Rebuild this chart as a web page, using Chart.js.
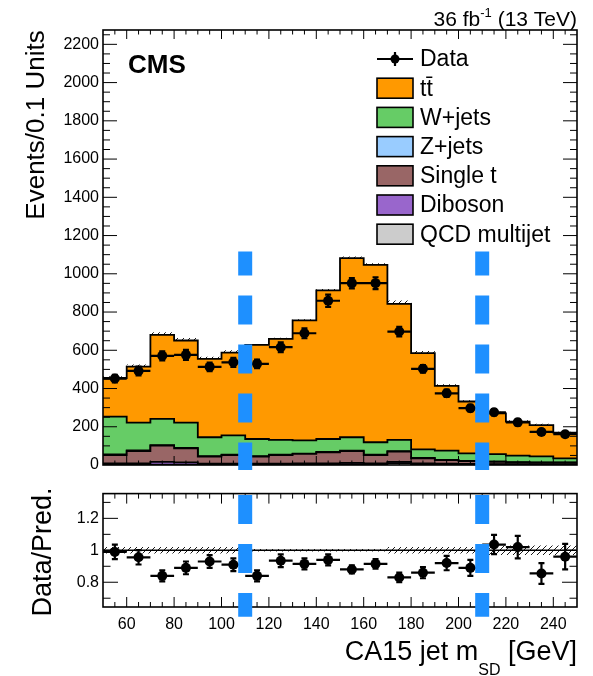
<!DOCTYPE html>
<html>
<head>
<meta charset="utf-8">
<script src="https://cdn.jsdelivr.net/npm/chart.js@4.4.0/dist/chart.umd.min.js"></script>
<style>
  html, body { margin: 0; padding: 0; background: #fff; }
  #wrap { position: relative; width: 593px; height: 676px; }
  #top { position: absolute; left: 0; top: 0; width: 593px; height: 480px; }
  #bot { position: absolute; left: 0; top: 480px; width: 593px; height: 196px; }
</style>
</head>
<body>
<div id="wrap">
  <canvas id="top" width="593" height="480"></canvas>
  <canvas id="bot" width="593" height="196"></canvas>
</div>
<script>
// bin edges, CA15 jet m_SD in GeV
var massEdges = [50, 60, 70, 80, 90, 100, 110, 120, 130, 140, 150, 160, 170, 180, 190, 200, 210, 220, 230, 240, 250];

// stacked predictions (events per bin)
var qcd       = [3, 2, 2, 2, 2, 2, 2, 2, 2, 3, 5, 4, 10, 4, 3, 2, 2, 2, 2, 2];
var diboson   = [5, 6, 14, 12, 5, 5, 5, 5, 6, 6, 6, 5, 6, 5, 4, 4, 3, 3, 3, 3];
var singleTop = [44, 65, 85, 73, 37, 45, 37, 45, 50, 57, 62, 43, 54, 26, 19, 15, 12, 9, 7, 7];
var zJets     = [3, 3, 3, 3, 2, 2, 2, 2, 2, 2, 2, 2, 2, 2, 1, 1, 1, 1, 1, 1];
var wJets     = [198, 146, 137, 132, 99, 101, 90, 77, 69, 68, 70, 65, 59, 45, 48, 39, 39, 34, 32, 22];
var ttbar     = [202, 293, 440, 429, 410, 433, 492, 529, 627, 777, 937, 928, 712, 503, 339, 271, 213, 178, 164, 134];
// relative uncertainty of the prediction
var mcUnc     = [0.02, 0.02, 0.02, 0.02, 0.02, 0.02, 0.008, 0.008, 0.008, 0.008, 0.008, 0.008, 0.02, 0.02, 0.02, 0.02, 0.03, 0.03, 0.03, 0.03];

// data
var dataVals  = [452, 492, 571, 576, 513, 537, 529, 616, 689, 859, 951, 951, 698, 503, 375, 297, 276, 223, 173, 161];
var dataErr   = [20, 23, 24, 26, 22, 24, 22, 26, 26, 32, 27, 31, 25, 20, 19, 17, 16, 16, 14, 13];

// ratio panel
var ratioVals = [0.99, 0.956, 0.84, 0.89, 0.93, 0.91, 0.84, 0.935, 0.915, 0.94, 0.88, 0.915, 0.83, 0.86, 0.92, 0.89, 1.036, 1.02, 0.855, 0.96];
var ratioErr  = [0.045, 0.045, 0.035, 0.04, 0.04, 0.04, 0.035, 0.04, 0.035, 0.035, 0.025, 0.03, 0.03, 0.035, 0.045, 0.05, 0.06, 0.07, 0.065, 0.08];

// ticks
var xTickLabels = [60, 80, 100, 120, 140, 160, 180, 200, 220, 240];
var yTickLabels = [0, 200, 400, 600, 800, 1000, 1200, 1400, 1600, 1800, 2000, 2200];
var ratioTickLabels = [0.8, 1, 1.2];

// selection cuts (blue dashed lines)
var cutValues = [110, 210];

var legendNames = ['Data', 'tt\u0304', 'W+jets', 'Z+jets', 'Single t', 'Diboson', 'QCD multijet'];
var legendColors = [null, '#ff9900', '#66cc66', '#99ccff', '#996666', '#9966cc', '#cccccc'];

var FONT = '"Liberation Sans", Arial, Helvetica, sans-serif';
Chart.defaults.font.family = FONT;
Chart.defaults.color = '#000';

var binCenters = massEdges.slice(0, -1).map(function (x, i) { return (x + massEdges[i + 1]) / 2; });
var mcTotal = ttbar.map(function (v, i) { return v + wJets[i] + zJets[i] + singleTop[i] + diboson[i] + qcd[i]; });

function stepPts(vals) {
  return massEdges.map(function (x, i) { return { x: x, y: vals[Math.min(i, vals.length - 1)] }; });
}
function pointPts(vals) {
  return binCenters.map(function (x, i) { return { x: x, y: vals[i] }; });
}

// hatch pattern like ROOT fill style 3004
function makeHatch() {
  var c = document.createElement('canvas');
  c.width = 6; c.height = 6;
  var g = c.getContext('2d');
  g.strokeStyle = '#000';
  g.lineWidth = 0.9;
  g.beginPath();
  g.moveTo(-1, 7); g.lineTo(7, -1);
  g.moveTo(-1, 1); g.lineTo(1, -1);
  g.moveTo(5, 7); g.lineTo(7, 5);
  g.stroke();
  return g.createPattern(c, 'repeat');
}
var hatch = makeHatch();

function histSet(label, vals, color, fill) {
  return {
    label: label, data: stepPts(vals), stepped: true,
    backgroundColor: color, borderColor: '#000', borderWidth: 1.8,
    pointRadius: 0, fill: fill, stack: 'mc', order: 1
  };
}

// draw frame with inward ROOT-style ticks
function drawFrame(chart, cfg) {
  var a = chart.chartArea, ctx = chart.ctx, xs = chart.scales.x, ys = chart.scales.y;
  ctx.save();
  ctx.strokeStyle = '#000';
  ctx.lineWidth = 1;
  ctx.beginPath();
  var v, px, len;
  for (v = massEdges[0] + 5; v < massEdges[massEdges.length - 1]; v += 5) {
    px = xs.getPixelForValue(v);
    len = (v % 20 === 0) ? cfg.xMajor : cfg.xMajor / 2;
    ctx.moveTo(px, a.bottom); ctx.lineTo(px, a.bottom - len);
    ctx.moveTo(px, a.top); ctx.lineTo(px, a.top + len);
  }
  for (v = cfg.yStart; v < ys.max; v += cfg.yMinor) {
    if (v <= ys.min) continue;
    px = ys.getPixelForValue(v);
    var k = Math.round((v - cfg.yStart) / cfg.yMinor);
    len = (k % cfg.yPer === 0) ? cfg.yMajor : cfg.yMajor / 2;
    ctx.moveTo(a.left, px); ctx.lineTo(a.left + len, px);
    ctx.moveTo(a.right, px); ctx.lineTo(a.right - len, px);
  }
  ctx.stroke();
  ctx.lineWidth = 1.6;
  ctx.strokeRect(a.left, a.top, a.right - a.left, a.bottom - a.top);
  ctx.restore();
}

function drawErrors(chart, vals, errs) {
  var ctx = chart.ctx, xs = chart.scales.x, ys = chart.scales.y;
  ctx.save();
  ctx.strokeStyle = '#000';
  ctx.lineWidth = 2.2;
  ctx.beginPath();
  vals.forEach(function (v, i) {
    var x0 = xs.getPixelForValue(massEdges[i]), x1 = xs.getPixelForValue(massEdges[i + 1]);
    var xc = xs.getPixelForValue(binCenters[i]);
    var y = ys.getPixelForValue(v);
    var yl = ys.getPixelForValue(v - errs[i]), yh = ys.getPixelForValue(v + errs[i]);
    ctx.moveTo(x0, y); ctx.lineTo(x1, y);
    ctx.moveTo(xc, yl); ctx.lineTo(xc, yh);
    ctx.moveTo(xc - 3, yl); ctx.lineTo(xc + 3, yl);
    ctx.moveTo(xc - 3, yh); ctx.lineTo(xc + 3, yh);
  });
  ctx.stroke();
  ctx.restore();
}

function drawCuts(chart, vTop, vBot, offset) {
  var ctx = chart.ctx, xs = chart.scales.x, ys = chart.scales.y;
  ctx.save();
  ctx.strokeStyle = '#1e90ff';
  ctx.lineWidth = 14;
  ctx.lineCap = 'butt';
  ctx.setLineDash([29, 20]);
  ctx.lineDashOffset = offset;
  cutValues.forEach(function (c) {
    var x = xs.getPixelForValue(c);
    ctx.beginPath();
    ctx.moveTo(x, ys.getPixelForValue(vTop));
    ctx.lineTo(x, ys.getPixelForValue(vBot));
    ctx.stroke();
  });
  ctx.restore();
}

var topPlugin = {
  id: 'topDecor',
  afterDatasetsDraw: function (chart) {
    drawErrors(chart, dataVals, dataErr);
    drawFrame(chart, { xMajor: 9, yStart: 0, yMinor: 50, yPer: 4, yMajor: 14 });
  },
  afterDraw: function (chart) {
    var ctx = chart.ctx;
    ctx.save();
    ctx.fillStyle = '#000';
    // CMS label
    ctx.font = 'bold 26px ' + FONT;
    ctx.textBaseline = 'alphabetic';
    ctx.textAlign = 'left';
    ctx.fillText('CMS', 128, 73);
    // luminosity label
    var f1 = '21px ' + FONT, f2 = '13px ' + FONT;
    ctx.font = f1; var w1 = ctx.measureText('36 fb').width; var w3 = ctx.measureText(' (13 TeV)').width;
    ctx.font = f2; var w2 = ctx.measureText('-1').width;
    var x = chart.chartArea.right - (w1 + w2 + w3);
    ctx.font = f1; ctx.fillText('36 fb', x, 26);
    ctx.font = f2; ctx.fillText('-1', x + w1, 17);
    ctx.font = f1; ctx.fillText(' (13 TeV)', x + w1 + w2, 26);
    // y title
    ctx.save();
    ctx.translate(44, 125);
    ctx.rotate(-Math.PI / 2);
    ctx.font = '26px ' + FONT;
    ctx.textAlign = 'center';
    ctx.fillText('Events/0.1 Units', 0, 0);
    ctx.restore();
    // legend
    ctx.font = '23px ' + FONT;
    ctx.textBaseline = 'middle';
    legendNames.forEach(function (name, i) {
      var cy = 59 + i * 29.2;
      ctx.strokeStyle = '#000';
      if (!legendColors[i]) {
        ctx.lineWidth = 2.2;
        ctx.beginPath();
        ctx.moveTo(377, cy); ctx.lineTo(413, cy);
        ctx.moveTo(395, cy - 7); ctx.lineTo(395, cy + 7);
        ctx.stroke();
        ctx.beginPath(); ctx.arc(395, cy, 4.5, 0, Math.PI * 2); ctx.fill();
      } else {
        ctx.lineWidth = 1.6;
        ctx.fillStyle = legendColors[i];
        ctx.fillRect(377, cy - 10, 36, 20);
        ctx.strokeRect(377, cy - 10, 36, 20);
      }
      ctx.fillStyle = '#000';
      ctx.fillText(name, 420, cy + 1);
    });
    ctx.restore();
    drawCuts(chart, 1117, -26, 5);
  }
};

new Chart(document.getElementById('top'), {
  type: 'line',
  data: {
    datasets: [
      histSet('QCD multijet', qcd, '#cccccc', 'origin'),
      histSet('Diboson', diboson, '#9966cc', '-1'),
      histSet('Single t', singleTop, '#996666', '-1'),
      histSet('Z+jets', zJets, '#99ccff', '-1'),
      histSet('W+jets', wJets, '#66cc66', '-1'),
      histSet('tt', ttbar, '#ff9900', '-1'),
      {
        label: 'unc up', data: stepPts(mcTotal.map(function (v, i) { return v * (1 + mcUnc[i]); })),
        stepped: true, borderWidth: 0, pointRadius: 0, backgroundColor: hatch, fill: '+1', stack: 'up', order: 5
      },
      {
        label: 'unc down', data: stepPts(mcTotal.map(function (v, i) { return v * (1 - mcUnc[i]); })),
        stepped: true, borderWidth: 0, pointRadius: 0, fill: false, stack: 'down', order: 5
      },
      {
        label: 'Data', data: pointPts(dataVals), showLine: false,
        pointRadius: 5, pointBackgroundColor: '#000', pointBorderWidth: 0, stack: 'data', order: 0
      }
    ]
  },
  options: {
    responsive: false,
    animation: false,
    events: [],
    layout: { padding: { left: 0, right: 16, top: 30, bottom: 15 } },
    plugins: { legend: { display: false }, tooltip: { enabled: false } },
    scales: {
      x: { type: 'linear', min: 50, max: 250, display: false },
      y: {
        type: 'linear', min: 0, max: 2275, stacked: true,
        grid: { display: false, drawTicks: false }, border: { display: false },
        ticks: { font: { size: 16 }, padding: 4, callback: function (v) { return String(v); } },
        afterBuildTicks: function (s) { s.ticks = yTickLabels.map(function (v) { return { value: v }; }); },
        afterFit: function (s) { s.width = 103; }
      }
    }
  },
  plugins: [topPlugin]
});

var botPlugin = {
  id: 'botDecor',
  afterDatasetsDraw: function (chart) {
    drawErrors(chart, ratioVals, ratioErr);
    drawFrame(chart, { xMajor: 10, yStart: 0.6, yMinor: 0.1, yPer: 2, yMajor: 15 });
  },
  afterDraw: function (chart) {
    var ctx = chart.ctx;
    ctx.save();
    ctx.fillStyle = '#000';
    ctx.textBaseline = 'alphabetic';
    // y title
    ctx.save();
    ctx.translate(51, 72);
    ctx.rotate(-Math.PI / 2);
    ctx.font = '27px ' + FONT;
    ctx.textAlign = 'center';
    ctx.fillText('Data/Pred.', 0, 0);
    ctx.restore();
    // x title with subscript
    var f1 = '27px ' + FONT, f2 = '16px ' + FONT;
    ctx.font = f1; var w1 = ctx.measureText('CA15 jet m').width; var w3 = ctx.measureText(' [GeV]').width;
    ctx.font = f2; var w2 = ctx.measureText('SD').width;
    var x = chart.chartArea.right - (w1 + w2 + w3);
    ctx.textAlign = 'left';
    ctx.font = f1; ctx.fillText('CA15 jet m', x, 180);
    ctx.font = f2; ctx.fillText('SD', x + w1, 195);
    ctx.font = f1; ctx.fillText(' [GeV]', x + w1 + w2, 180);
    ctx.restore();
    drawCuts(chart, 1.347, 0.584, 0);
  }
};

new Chart(document.getElementById('bot'), {
  type: 'line',
  data: {
    datasets: [
      {
        label: 'unc up', data: stepPts(mcUnc.map(function (u) { return 1 + u; })),
        stepped: true, borderWidth: 0, pointRadius: 0, backgroundColor: hatch, fill: '+1', order: 5
      },
      {
        label: 'unc down', data: stepPts(mcUnc.map(function (u) { return 1 - u; })),
        stepped: true, borderWidth: 0, pointRadius: 0, fill: false, order: 5
      },
      {
        label: 'unity', data: stepPts(mcUnc.map(function () { return 1; })),
        borderColor: '#000', borderWidth: 1.6, pointRadius: 0, fill: false, order: 2
      },
      {
        label: 'Data/Pred.', data: pointPts(ratioVals), showLine: false,
        pointRadius: 5, pointBackgroundColor: '#000', pointBorderWidth: 0, order: 0
      }
    ]
  },
  options: {
    responsive: false,
    animation: false,
    events: [],
    layout: { padding: { left: 0, right: 16, top: 10, bottom: 0 } },
    plugins: { legend: { display: false }, tooltip: { enabled: false } },
    scales: {
      x: {
        type: 'linear', min: 50, max: 250,
        grid: { display: false, drawTicks: false }, border: { display: false },
        ticks: { font: { size: 16 }, padding: 8, autoSkip: false, maxRotation: 0, callback: function (v) { return String(v); } },
        afterBuildTicks: function (s) { s.ticks = xTickLabels.map(function (v) { return { value: v }; }); },
        afterFit: function (s) { s.height = 69; }
      },
      y: {
        type: 'linear', min: 0.645, max: 1.355,
        grid: { display: false, drawTicks: false }, border: { display: false },
        ticks: { font: { size: 16 }, padding: 4, callback: function (v) { return String(v); } },
        afterBuildTicks: function (s) { s.ticks = ratioTickLabels.map(function (v) { return { value: v }; }); },
        afterFit: function (s) { s.height; s.width = 103; }
      }
    }
  },
  plugins: [botPlugin]
});
</script>
</body>
</html>
